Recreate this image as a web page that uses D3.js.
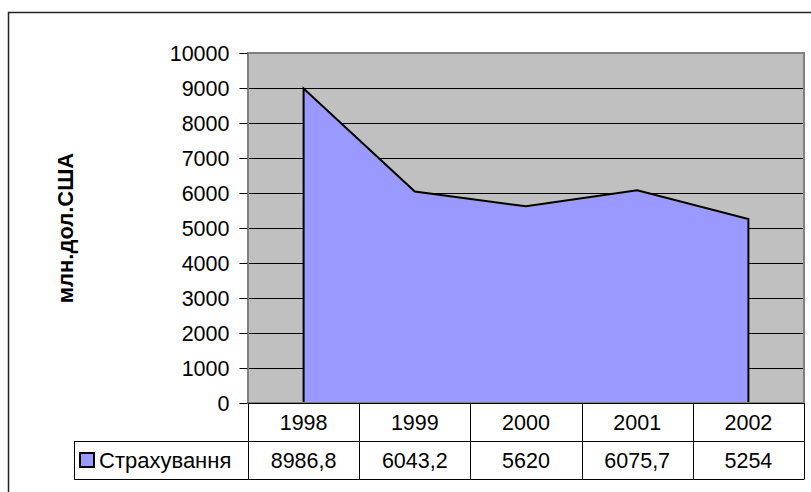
<!DOCTYPE html>
<html>
<head>
<meta charset="utf-8">
<script src="https://cdn.jsdelivr.net/npm/d3@7"></script>
<style>
  body { margin: 0; background: #fff; }
  svg { display: block; font-family: "Liberation Sans", Arial, sans-serif; }
</style>
</head>
<body>
<script>
// chart data
const years = ['1998', '1999', '2000', '2001', '2002'];
const values = [8986.8, 6043.2, 5620, 6075.7, 5254];
const valueLabels = ['8986,8', '6043,2', '5620', '6075,7', '5254'];
const seriesName = 'Страхування';
const yTicks = [0, 1000, 2000, 3000, 4000, 5000, 6000, 7000, 8000, 9000, 10000];
const yTitle = 'млн.дол.США';

const W = 811, H = 492;
const plot = { left: 248, right: 804, top: 53, bottom: 403 };
const rowH = 38;
const numSize = 21.5;

const svg = d3.select('body').append('svg')
  .attr('width', W)
  .attr('height', H);

// outer chart frame (runs past the window on the right and bottom)
svg.append('path')
  .attr('d', 'M8.5,' + (H + 5) + 'V12.5H' + (W + 5))
  .attr('fill', 'none')
  .attr('stroke', '#222')
  .attr('stroke-width', 1.5);

const x = d3.scaleBand()
  .domain(years)
  .range([plot.left, plot.right]);

const y = d3.scaleLinear()
  .domain([0, 10000])
  .range([plot.bottom, plot.top]);

// plot background
svg.append('rect')
  .attr('x', plot.left).attr('y', plot.top)
  .attr('width', plot.right - plot.left)
  .attr('height', plot.bottom - plot.top)
  .attr('fill', '#c0c0c0');

// gridlines
svg.append('g')
  .selectAll('line')
  .data(yTicks.filter(d => d > 0 && d < 10000))
  .enter().append('line')
  .attr('x1', plot.left).attr('x2', plot.right)
  .attr('y1', d => Math.round(y(d)) + 0.5)
  .attr('y2', d => Math.round(y(d)) + 0.5)
  .attr('stroke', '#000')
  .attr('stroke-width', 1);

// area
const cx = d => x(d) + x.bandwidth() / 2;
const pts = years.map((d, i) => [cx(d), y(values[i])]);
const poly = [[cx(years[0]), y(0)]].concat(pts, [[cx(years[years.length - 1]), y(0)]]);

svg.append('path')
  .attr('d', 'M' + poly.map(p => p.join(',')).join('L') + 'Z')
  .attr('fill', '#9999ff')
  .attr('stroke', '#000')
  .attr('stroke-width', 2)
  .attr('stroke-linejoin', 'miter');

// plot border
svg.append('rect')
  .attr('x', plot.left).attr('y', plot.top)
  .attr('width', plot.right - plot.left)
  .attr('height', plot.bottom - plot.top)
  .attr('fill', 'none')
  .attr('stroke', '#808080')
  .attr('stroke-width', 2);

// y axis
const yAxis = d3.axisLeft(y)
  .tickValues(yTicks)
  .tickSize(8)
  .tickFormat(d3.format('d'));

const gy = svg.append('g')
  .attr('transform', `translate(${plot.left - 0.5},0)`)
  .call(yAxis);
gy.select('.domain').remove();
gy.selectAll('.tick line').attr('stroke', '#000');
gy.selectAll('.tick text')
  .attr('x', -18)
  .attr('dy', '0.36em')
  .attr('font-size', numSize)
  .attr('font-family', '"Liberation Sans", Arial, sans-serif')
  .attr('fill', '#000');

// y title
svg.append('text')
  .attr('transform', `translate(73,${(plot.top + plot.bottom) / 2}) rotate(-90)`)
  .attr('text-anchor', 'middle')
  .attr('font-size', 22)
  .attr('font-weight', 'bold')
  .text(yTitle);

// data table
const table = svg.append('g');
const tTop = plot.bottom;
const legendLeft = 74;

// horizontal lines
table.append('line')
  .attr('x1', plot.left).attr('x2', plot.right)
  .attr('y1', tTop + 0.5).attr('y2', tTop + 0.5)
  .attr('stroke', '#000');
[tTop + rowH, tTop + 2 * rowH].forEach(yy => {
  table.append('line')
    .attr('x1', legendLeft).attr('x2', plot.right)
    .attr('y1', yy + 0.5).attr('y2', yy + 0.5)
    .attr('stroke', '#000');
});

// vertical lines
table.selectAll('line.col')
  .data(years.concat(['end']))
  .enter().append('line')
  .attr('class', 'col')
  .attr('x1', d => Math.round(d === 'end' ? plot.right : x(d)) + 0.5)
  .attr('x2', d => Math.round(d === 'end' ? plot.right : x(d)) + 0.5)
  .attr('y1', tTop)
  .attr('y2', tTop + 2 * rowH + 0.5)
  .attr('stroke', '#000');

table.append('line')
  .attr('x1', legendLeft + 0.5).attr('x2', legendLeft + 0.5)
  .attr('y1', tTop + rowH).attr('y2', tTop + 2 * rowH + 0.5)
  .attr('stroke', '#000');

// year labels
table.selectAll('text.year')
  .data(years)
  .enter().append('text')
  .attr('class', 'year')
  .attr('x', d => cx(d))
  .attr('y', tTop + rowH / 2 + 8)
  .attr('text-anchor', 'middle')
  .attr('font-size', numSize)
  .text(d => d);

// value labels
table.selectAll('text.val')
  .data(valueLabels)
  .enter().append('text')
  .attr('class', 'val')
  .attr('x', (d, i) => cx(years[i]))
  .attr('y', tTop + rowH * 1.5 + 8)
  .attr('text-anchor', 'middle')
  .attr('font-size', numSize)
  .text(d => d);

// legend key and series name
table.append('rect')
  .attr('x', 80).attr('y', tTop + rowH * 1.5 - 7)
  .attr('width', 14).attr('height', 14)
  .attr('fill', '#9999ff')
  .attr('stroke', '#000')
  .attr('stroke-width', 2);

table.append('text')
  .attr('x', 99)
  .attr('y', tTop + rowH * 1.5 + 8)
  .attr('font-size', 22)
  .text(seriesName);
</script>
</body>
</html>
